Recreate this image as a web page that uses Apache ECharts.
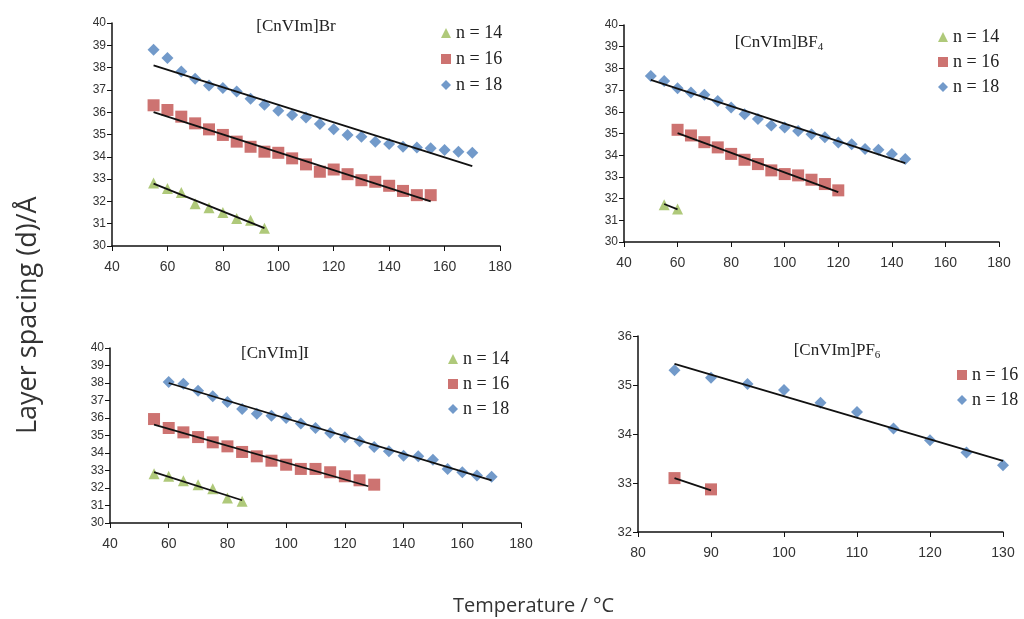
<!DOCTYPE html>
<html>
<head>
<meta charset="utf-8">
<script src="https://cdn.jsdelivr.net/npm/echarts@6/dist/echarts.min.js"></script>
<style>
  html, body { margin: 0; padding: 0; background: #fff; }
  #chart { width: 1024px; height: 619px; }
</style>
</head>
<body>
<div id="chart"></div>
<script>
// [CnVIm]Br
const brX14 = [55, 60, 65, 70, 75, 80, 85, 90, 95]
const brY14 = [32.83, 32.58, 32.4, 31.9, 31.72, 31.5, 31.23, 31.15, 30.8]
const brX16 = [55, 60, 65, 70, 75, 80, 85, 90, 95, 100, 105, 110, 115, 120, 125, 130, 135, 140, 145, 150, 155]
const brY16 = [36.31, 36.1, 35.8, 35.5, 35.23, 34.98, 34.68, 34.45, 34.23, 34.18, 33.93, 33.66, 33.33, 33.43, 33.22, 32.95, 32.88, 32.7, 32.47, 32.28, 32.28]
const brX18 = [55, 60, 65, 70, 75, 80, 85, 90, 95, 100, 105, 110, 115, 120, 125, 130, 135, 140, 145, 150, 155, 160, 165, 170]
const brY18 = [38.8, 38.43, 37.83, 37.5, 37.2, 37.08, 36.93, 36.6, 36.33, 36.06, 35.88, 35.76, 35.47, 35.23, 34.98, 34.9, 34.68, 34.57, 34.45, 34.42, 34.38, 34.3, 34.23, 34.18]
const brFit14 = [[55, 32.8], [95, 30.8]]
const brFit16 = [[55, 36.0], [155, 32.0]]
const brFit18 = [[55, 38.1], [170, 33.58]]

// [CnVIm]BF4
const bfX14 = [55, 60]
const bfY14 = [31.72, 31.52]
const bfX16 = [60, 65, 70, 75, 80, 85, 90, 95, 100, 105, 110, 115, 120]
const bfY16 = [35.17, 34.91, 34.6, 34.36, 34.06, 33.79, 33.59, 33.3, 33.13, 33.07, 32.87, 32.67, 32.38]
const bfX18 = [50, 55, 60, 65, 70, 75, 80, 85, 90, 95, 100, 105, 110, 115, 120, 125, 130, 135, 140, 145]
const bfY18 = [37.65, 37.42, 37.09, 36.89, 36.78, 36.5, 36.2, 35.89, 35.67, 35.37, 35.28, 35.12, 34.97, 34.83, 34.59, 34.51, 34.29, 34.25, 34.06, 33.82]
const bfFit14 = [[55, 31.75], [60, 31.5]]
const bfFit16 = [[60, 35.02], [120, 32.3]]
const bfFit18 = [[50, 37.47], [145, 33.63]]

// [CnVIm]I
const iX14 = [55, 60, 65, 70, 75, 80, 85]
const iY14 = [32.82, 32.67, 32.42, 32.19, 31.96, 31.43, 31.24]
const iX16 = [55, 60, 65, 70, 75, 80, 85, 90, 95, 100, 105, 110, 115, 120, 125, 130]
const iY16 = [35.94, 35.43, 35.18, 34.91, 34.61, 34.38, 34.06, 33.81, 33.56, 33.33, 33.09, 33.09, 32.9, 32.67, 32.44, 32.19]
const iX18 = [60, 65, 70, 75, 80, 85, 90, 95, 100, 105, 110, 115, 120, 125, 130, 135, 140, 145, 150, 155, 160, 165, 170]
const iY18 = [38.06, 37.96, 37.56, 37.24, 36.91, 36.51, 36.25, 36.13, 36.0, 35.68, 35.43, 35.14, 34.9, 34.67, 34.34, 34.1, 33.85, 33.81, 33.62, 33.09, 32.9, 32.72, 32.65]
const iFit14 = [[55, 32.91], [85, 31.3]]
const iFit16 = [[55, 35.62], [128, 32.1]]
const iFit18 = [[60, 38.0], [170, 32.44]]

// [CnVIm]PF6
const pfX16 = [85, 90]
const pfY16 = [33.1, 32.87]
const pfX18 = [85, 90, 95, 100, 105, 110, 115, 120, 125, 130]
const pfY18 = [35.3, 35.15, 35.02, 34.9, 34.64, 34.45, 34.11, 33.87, 33.62, 33.36]
const pfFit16 = [[85, 33.1], [90, 32.85]]
const pfFit18 = [[85, 35.43], [130, 33.45]]

const names = { 14: 'n = 14', 16: 'n = 16', 18: 'n = 18' }
const colors = { 14: '#9bbb59', 16: '#c0504d', 18: '#4f81bd' }
const symbols = { 14: 'triangle', 16: 'rect', 18: 'diamond' }
const sizes = { 14: 11, 16: 12, 18: 12 }

function zip(xs, ys) {
  return xs.map((x, i) => [x, ys[i]])
}

function points(n, xs, ys, idx) {
  return {
    name: names[n],
    type: 'scatter',
    xAxisIndex: idx,
    yAxisIndex: idx,
    symbol: symbols[n],
    symbolSize: sizes[n],
    itemStyle: { color: colors[n] },
    data: zip(xs, ys),
    z: 2
  }
}

function fit(data, idx) {
  return {
    name: 'fit',
    type: 'line',
    xAxisIndex: idx,
    yAxisIndex: idx,
    symbol: 'none',
    lineStyle: { color: '#111', width: 1.8 },
    data: data,
    z: 3
  }
}

function xAxis(idx, min, max, interval) {
  return {
    gridIndex: idx, type: 'value', min: min, max: max, interval: interval,
    axisLine: { lineStyle: { color: '#111', width: 1.5 } },
    axisTick: { length: 5, lineStyle: { color: '#111' } },
    axisLabel: { margin: 14, fontSize: 14, color: '#333', fontFamily: 'Liberation Sans' },
    splitLine: { show: false }
  }
}

function yAxis(idx, min, max, interval, fontSize) {
  return {
    gridIndex: idx, type: 'value', min: min, max: max, interval: interval,
    axisLine: { show: true, lineStyle: { color: '#111', width: 1.5 } },
    axisTick: { show: true, length: 5, lineStyle: { color: '#111' } },
    axisLabel: { margin: 6, fontSize: fontSize, color: '#333', fontFamily: 'Liberation Sans' },
    splitLine: { show: false }
  }
}

function legend(left, top, ns, gap) {
  return {
    left: left, top: top, orient: 'vertical', itemGap: gap,
    itemWidth: 10, itemHeight: 10,
    textStyle: { fontFamily: 'Liberation Serif', fontSize: 18, color: '#222' },
    data: ns.map(n => ({ name: names[n], icon: symbols[n], itemStyle: { color: colors[n] } }))
  }
}

const titleRich = { sub: { fontFamily: 'Liberation Serif', fontSize: 11, color: '#222', padding: [10, 0, 0, 0] } }
function title(text, left, top) {
  return {
    text: text, left: left, top: top, textAlign: 'center',
    textStyle: { fontFamily: 'Liberation Serif', fontSize: 17, fontWeight: 'normal', color: '#222', rich: titleRich }
  }
}

const chart = echarts.init(document.getElementById('chart'))
chart.setOption({
  backgroundColor: '#fff',
  animation: false,
  title: [
    title('[CnVIm]Br', 291, 13),
    title('[CnVIm]BF{sub|4}', 774, 27),
    title('[CnVIm]I', 270, 340),
    title('[CnVIm]PF{sub|6}', 832, 335)
  ],
  legend: [
    legend(436, 19, [14, 16, 18], 8),
    legend(933, 23, [14, 16, 18], 7),
    legend(443, 345, [14, 16, 18], 7),
    legend(952, 361, [16, 18], 7)
  ],
  grid: [
    { left: 112, top: 23, right: 524, bottom: 373 },
    { left: 624, top: 25, right: 25, bottom: 377 },
    { left: 110, top: 348, right: 503, bottom: 96 },
    { left: 638, top: 336, right: 21, bottom: 87 }
  ],
  xAxis: [
    xAxis(0, 40, 180, 20),
    xAxis(1, 40, 180, 20),
    xAxis(2, 40, 180, 20),
    xAxis(3, 80, 130, 10)
  ],
  yAxis: [
    yAxis(0, 30, 40, 1, 12),
    yAxis(1, 30, 40, 1, 12),
    yAxis(2, 30, 40, 1, 12),
    yAxis(3, 32, 36, 1, 13)
  ],
  graphic: [
    {
      type: 'text', left: 453, top: 596,
      style: { text: 'Temperature / °C', fontFamily: 'Open Sans', fontSize: 20, fill: '#333' }
    },
    {
      type: 'text', x: 15, y: 434, rotation: Math.PI / 2,
      style: { text: 'Layer spacing (d)/Å', fontFamily: 'Open Sans', fontSize: 27, fill: '#333' }
    }
  ],
  series: [
    points(14, brX14, brY14, 0), points(16, brX16, brY16, 0), points(18, brX18, brY18, 0),
    fit(brFit14, 0), fit(brFit16, 0), fit(brFit18, 0),
    points(14, bfX14, bfY14, 1), points(16, bfX16, bfY16, 1), points(18, bfX18, bfY18, 1),
    fit(bfFit14, 1), fit(bfFit16, 1), fit(bfFit18, 1),
    points(14, iX14, iY14, 2), points(16, iX16, iY16, 2), points(18, iX18, iY18, 2),
    fit(iFit14, 2), fit(iFit16, 2), fit(iFit18, 2),
    points(16, pfX16, pfY16, 3), points(18, pfX18, pfY18, 3),
    fit(pfFit16, 3), fit(pfFit18, 3)
  ]
})
</script>
</body>
</html>
